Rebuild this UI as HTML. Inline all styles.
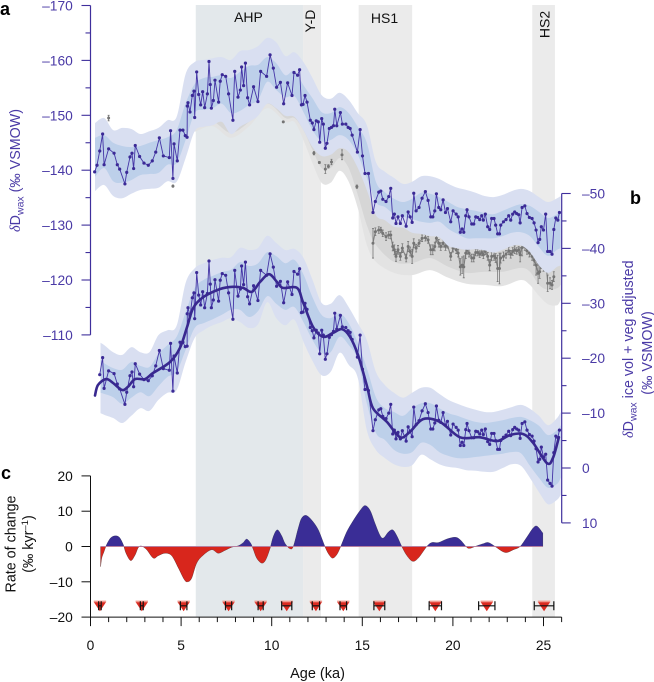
<!DOCTYPE html>
<html lang="en">
<head>
<meta charset="utf-8">
<title>Leaf wax hydrogen isotope record</title>
<style>
html,body{margin:0;padding:0;background:#fff}
svg{display:block}
text{font-family:"Liberation Sans",Arial,sans-serif}
</style>
</head>
<body>
<svg id="chart" xmlns="http://www.w3.org/2000/svg" width="654" height="682" viewBox="0 0 654 682">
<g id="bg"></g>
<g id="greyLayer"></g>
<g id="upperLayer"></g>
<g id="lowerLayer"></g>
<g id="rateLayer"></g>
<g id="axes"></g>

<text x="0" y="15" font-size="18" font-weight="bold">a</text>
<text x="630" y="204" font-size="18" font-weight="bold">b</text>
<text x="1" y="479" font-size="18" font-weight="bold">c</text>

<text transform="translate(20,232) rotate(-90)" font-size="14.3" fill="#4a3aa6"><tspan font-family="Liberation Serif" font-style="italic">δ</tspan>D<tspan font-size="10.5" dy="3.5">wax</tspan><tspan dy="-3.5"> (‰ VSMOW)</tspan></text>
<text transform="translate(633,438) rotate(-90)" font-size="14.3" fill="#4a3aa6"><tspan font-family="Liberation Serif" font-style="italic">δ</tspan>D<tspan font-size="10.5" dy="3.5">wax</tspan><tspan dy="-3.5"> ice vol + veg adjusted</tspan></text>
<text transform="translate(652,353) rotate(-90)" font-size="14.3" fill="#4a3aa6" text-anchor="middle">(‰ VSMOW)</text>
<text transform="translate(15.5,544) rotate(-90)" font-size="14.3" fill="#111" text-anchor="middle">Rate of change</text>
<text transform="translate(33,544) rotate(-90)" font-size="14.3" fill="#111" text-anchor="middle">(‰ kyr<tspan font-size="9.5" dy="-5">–1</tspan><tspan dy="5">)</tspan></text>
<text x="317.5" y="678" font-size="14.5" fill="#111" text-anchor="middle">Age (ka)</text>

<text x="248.5" y="22" font-size="14" fill="#111" text-anchor="middle">AHP</text>
<text x="384.5" y="23" font-size="14" fill="#111" text-anchor="middle">HS1</text>
<text transform="translate(315,21) rotate(-90)" font-size="14" fill="#111" text-anchor="middle">Y-D</text>
<text transform="translate(549.5,24.5) rotate(-90)" font-size="14" fill="#111" text-anchor="middle">HS2</text>
</svg>

<script>
// ---------- event windows (ka) ----------
const eventNames = ['ahp','younger-dryas','hs1','hs2'];
const eventStarts = [5.81,11.73,14.8,24.38];
const eventEnds = [11.73,12.72,17.75,25.63];

// ---------- sample ages shared by raw and adjusted records (ka) ----------
const sampleAges = [0.23,0.36,0.51,0.67,0.75,1.0,1.3,1.48,1.61,1.9,2.0,2.18,2.29,2.38,2.47,2.71,2.95,3.19,3.41,3.6,3.8,4.02,4.35,4.42,4.55,4.61,4.79,4.94,5.1,5.23,5.33,5.34,5.38,5.49,5.62,5.71,5.75,5.86,5.97,6.08,6.19,6.3,6.45,6.54,6.61,6.67,6.78,6.87,7.07,7.16,7.27,7.46,7.62,7.86,7.96,8.14,8.27,8.34,8.45,8.55,8.67,8.78,9.0,9.24,9.39,9.72,9.91,10.09,10.27,10.48,10.66,10.88,11.12,11.23,11.43,11.54,11.64,11.73,11.84,11.95,12.13,12.24,12.33,12.46,12.57,12.65,12.76,12.85,12.96,13.05,13.18,13.3,13.41,13.48,13.59,13.79,13.9,14.09,14.22,14.33,14.44,14.73,14.88,15.01,15.15,15.34,15.59,15.72,15.91,16.02,16.13,16.31,16.46,16.57,16.68,16.77,16.86,16.97,17.1,17.21,17.42,17.53,17.64,17.75,17.84,17.97,18.13,18.3,18.48,18.63,18.78,18.89,19.0,19.09,19.22,19.33,19.46,19.59,19.7,19.88,20.01,20.18,20.29,20.41,20.51,20.6,20.71,20.78,20.89,21.04,21.15,21.26,21.37,21.48,21.59,21.68,21.79,21.92,22.03,22.14,22.27,22.36,22.47,22.57,22.64,22.79,22.93,23.08,23.19,23.3,23.41,23.52,23.63,23.71,23.82,23.97,24.09,24.22,24.37,24.48,24.59,24.7,24.79,24.88,25.0,25.12,25.23,25.36,25.47,25.57,25.68,25.79,25.88];

// raw dD wax (permil, left axis)
const rawValues = [-139.7,-140.9,-143.5,-146.6,-141.0,-143.9,-143.1,-141.0,-140.2,-137.5,-139.6,-142.4,-143.1,-140.3,-144.5,-142.5,-141.3,-140.9,-141.7,-143.3,-145.9,-142.6,-142.3,-147.2,-138.5,-144.8,-141.7,-147.3,-147.3,-146.3,-146.0,-151.7,-152.3,-150.6,-153.6,-154.4,-149.6,-157.9,-153.8,-151.9,-154.3,-151.4,-153.9,-159.8,-155.6,-151.3,-152.7,-156.4,-152.4,-156.2,-157.4,-157.1,-153.9,-149.1,-158.0,-153.3,-154.6,-158.8,-155.4,-159.5,-153.2,-151.9,-155.2,-152.5,-158.0,-157.1,-161.0,-158.6,-155.1,-156.0,-152.1,-155.9,-153.6,-157.8,-157.3,-158.3,-151.9,-152.0,-153.6,-152.4,-149.1,-148.6,-147.4,-149.0,-148.8,-145.1,-149.4,-148.4,-144.0,-144.9,-147.6,-147.8,-148.1,-151.1,-148.1,-150.5,-148.4,-148.4,-147.8,-147.6,-146.4,-143.3,-147.4,-142.6,-139.4,-139.4,-132.3,-134.3,-136.0,-136.2,-134.7,-134.3,-135.2,-136.7,-131.3,-132.0,-130.3,-131.5,-130.3,-131.7,-129.8,-132.4,-131.5,-130.5,-135.8,-132.6,-133.2,-134.9,-136.1,-134.5,-131.5,-131.5,-132.6,-135.7,-133.2,-132.8,-134.6,-132.3,-133.0,-130.6,-132.6,-132.0,-131.5,-128.7,-129.3,-128.7,-131.7,-132.8,-131.5,-130.2,-130.2,-131.5,-131.4,-131.0,-131.7,-130.9,-132.0,-129.7,-129.2,-131.2,-131.2,-130.0,-128.4,-128.4,-130.0,-130.6,-131.0,-131.7,-130.9,-132.0,-132.4,-132.1,-131.9,-130.4,-133.2,-133.5,-132.1,-131.4,-131.2,-130.4,-129.1,-126.8,-127.4,-129.7,-129.1,-132.0,-125.2,-125.2,-124.7,-129.2,-131.3,-130.9,-132.3];

// adjusted dD wax (permil, right axis); the two youngest samples are not plotted
const adjustedValues = [null,null,-17.0,-20.1,-14.5,-17.7,-17.2,-15.3,-14.4,-11.6,-13.8,-16.8,-17.5,-14.8,-19.0,-17.1,-16.1,-15.9,-16.8,-18.6,-21.4,-18.1,-17.8,-22.7,-14.0,-20.4,-17.3,-22.9,-22.9,-22.1,-22.2,-28.1,-29.2,-27.7,-31.0,-31.9,-27.2,-35.6,-31.5,-29.7,-32.1,-29.2,-31.8,-37.7,-33.5,-29.2,-30.6,-34.3,-30.4,-34.2,-35.4,-35.1,-31.9,-27.1,-36.0,-31.3,-32.6,-36.8,-33.4,-37.5,-31.2,-29.9,-33.2,-30.5,-36.0,-35.1,-39.0,-36.6,-33.1,-34.0,-30.1,-33.9,-31.6,-35.8,-35.3,-36.3,-28.3,-28.4,-30.0,-28.9,-25.6,-25.0,-23.7,-25.1,-24.6,-20.8,-25.1,-24.2,-19.8,-20.8,-23.8,-24.3,-24.9,-28.2,-25.3,-27.8,-25.7,-25.6,-25.0,-24.7,-23.4,-20.2,-24.2,-18.0,-14.3,-14.1,-6.8,-8.8,-10.6,-10.8,-9.4,-9.0,-10.0,-11.6,-6.2,-6.9,-5.3,-6.5,-5.3,-6.8,-4.9,-7.5,-6.7,-5.7,-11.1,-7.9,-8.6,-10.4,-11.7,-10.1,-7.1,-7.1,-8.2,-11.3,-8.7,-8.3,-10.1,-7.8,-8.5,-6.0,-8.0,-7.4,-6.9,-4.1,-4.7,-4.1,-7.0,-8.1,-6.8,-5.5,-5.5,-6.7,-6.6,-6.2,-6.9,-6.1,-7.1,-4.8,-4.3,-6.3,-6.3,-5.0,-3.4,-3.4,-5.0,-5.6,-6.0,-6.7,-5.9,-7.0,-7.4,-7.1,-6.9,-5.4,-8.1,-8.4,-6.9,-6.1,-5.8,-4.9,-3.5,-1.1,-1.6,-3.8,-2.0,-2.5,2.2,2.8,3.3,-2.8,-5.8,-5.5,-6.9];

// ---------- raw record uncertainty envelopes ----------
const rawBandAges = [0.25,0.75,1.25,1.75,2.25,2.75,3.25,3.75,4.25,4.75,5.25,5.75,6.25,6.75,7.25,7.75,8.25,8.75,9.25,9.75,10.25,10.75,11.25,11.75,12.25,12.75,13.25,13.75,14.25,14.75,15.25,15.75,16.25,16.75,17.25,17.75,18.25,18.75,19.25,19.75,20.25,20.75,21.25,21.75,22.25,22.75,23.25,23.75,24.25,24.75,25.25,25.75,25.95];
const rawOuterTop = [-148.6,-149.5,-147.3,-147.7,-147.5,-146.6,-147.1,-147.7,-149.1,-149.7,-157.5,-159.7,-160.1,-160.4,-160.6,-160.1,-161.7,-161.9,-162.6,-164.1,-163.3,-160.8,-161.5,-159.7,-156.8,-153.7,-153.0,-154.1,-152.8,-150.4,-148.2,-141.5,-139.7,-138.6,-137.5,-137.9,-138.9,-138.9,-138.4,-137.5,-136.8,-136.4,-135.9,-135.3,-135.1,-135.5,-136.2,-136.6,-136.2,-135.1,-134.2,-134.9,-135.3];
const rawInnerTop = [-145.9,-146.4,-145.0,-144.4,-144.2,-144.4,-145.0,-145.5,-146.0,-147.3,-152.2,-155.7,-156.8,-157.0,-157.3,-156.8,-157.9,-159.0,-159.2,-160.6,-159.5,-157.3,-158.1,-155.5,-153.1,-150.6,-150.4,-151.5,-150.4,-147.9,-145.0,-137.9,-136.0,-134.8,-134.2,-134.8,-135.9,-135.7,-135.1,-134.2,-133.3,-132.9,-132.6,-132.2,-132.0,-132.6,-133.3,-133.8,-133.5,-132.4,-131.3,-132.0,-132.4];
const rawInnerBottom = [-138.8,-140.4,-138.0,-137.7,-138.2,-139.1,-139.3,-139.5,-141.0,-141.3,-145.5,-150.4,-151.0,-151.3,-152.1,-150.4,-150.8,-151.9,-152.8,-156.1,-154.6,-153.3,-153.5,-150.6,-147.3,-145.3,-145.5,-146.4,-145.5,-142.8,-138.6,-134.2,-133.3,-132.0,-131.5,-131.1,-130.6,-130.4,-130.6,-129.3,-128.4,-127.6,-127.6,-127.6,-127.6,-128.0,-128.6,-128.7,-128.0,-126.0,-124.4,-125.5,-125.8];
const rawOuterBottom = [-136.2,-137.3,-135.3,-134.9,-135.7,-136.4,-136.6,-136.8,-138.0,-137.9,-142.2,-147.1,-147.9,-148.2,-148.8,-146.6,-147.9,-148.8,-149.9,-152.1,-151.3,-149.9,-149.7,-147.3,-144.2,-142.6,-142.8,-144.0,-143.3,-140.4,-136.4,-131.8,-130.9,-129.7,-129.5,-128.6,-128.4,-128.0,-127.8,-126.2,-125.8,-125.5,-125.6,-125.4,-125.0,-125.5,-126.2,-126.3,-125.1,-122.7,-121.3,-122.4,-122.6];

// ---------- unadjusted (grey) record ----------
const greyBandAges = [5.75,6.75,7.75,8.75,9.75,10.75,11.25,11.75,12.25,12.75,13.25,13.75,14.25,14.75,15.25,15.75,16.75,17.75,18.75,19.75,20.75,21.75,22.75,23.75,24.25,24.75,25.25,25.75,25.95];
const greyTop = [-150.4,-151.3,-150.4,-151.9,-156.1,-153.3,-153.5,-150.6,-147.3,-145.3,-145.5,-146.4,-145.5,-142.8,-138.6,-134.2,-132.0,-131.1,-130.4,-129.3,-127.6,-127.6,-128.0,-128.7,-128.0,-126.0,-124.4,-125.5,-125.8];
const greyInnerBottom = [-147.7,-148.8,-146.8,-148.8,-152.1,-149.5,-149.5,-147.3,-143.7,-140.4,-140.4,-142.2,-140.4,-135.5,-130.0,-126.4,-123.3,-123.1,-124.0,-122.4,-121.3,-121.5,-121.5,-122.2,-121.5,-119.1,-118.2,-118.5,-119.1];
const greyOuterBottom = [-147.0,-148.0,-145.9,-148.0,-151.3,-148.8,-148.8,-145.5,-141.3,-137.7,-137.7,-139.9,-137.9,-133.1,-126.4,-123.3,-121.3,-120.9,-121.8,-120.4,-119.3,-119.1,-118.9,-120.0,-119.1,-117.1,-115.6,-115.4,-116.4];
// isolated grey samples poking out from under the blue envelopes
const greyEarlyAges = [1.0,4.55,10.64,12.33,12.63,12.96,13.13,13.3,13.88,14.7];
const greyEarlyValues = [-149.5,-137.1,-148.8,-143.1,-141.4,-140.2,-140.7,-141.5,-142.8,-137.0];
const greyEarlyErrors = [0.5,0.2,0.1,0.3,0.2,0.8,0.3,0.5,0.9,0.3];
// dense grey samples older than 15.5 ka
const greyAges = [15.59,15.72,15.91,16.02,16.13,16.31,16.46,16.57,16.68,16.77,16.86,16.97,17.1,17.21,17.42,17.53,17.64,17.75,17.84,17.97,18.13,18.3,18.48,18.63,18.78,18.89,19.0,19.09,19.22,19.33,19.46,19.59,19.7,19.88,20.01,20.18,20.29,20.41,20.51,20.6,20.71,20.78,20.89,21.04,21.15,21.26,21.37,21.48,21.59,21.68,21.79,21.92,22.03,22.14,22.27,22.36,22.47,22.57,22.64,22.79,22.93,23.08,23.19,23.3,23.41,23.52,23.63,23.71,23.82,23.97,24.09,24.22,24.37,24.48,24.59,24.7,24.79,24.88,25.0,25.12,25.23,25.36,25.47,25.57];
const greyValues = [-126.7,-128.8,-129.1,-129.1,-128.5,-127.9,-128.2,-128.2,-126.1,-125.5,-124.3,-125.5,-124.3,-125.8,-124.0,-126.1,-125.2,-124.3,-126.7,-125.8,-126.7,-127.6,-127.7,-127.3,-125.5,-125.5,-126.1,-127.6,-126.7,-126.1,-126.7,-126.1,-126.4,-124.3,-125.8,-125.5,-124.9,-122.4,-122.7,-122.4,-124.9,-125.5,-124.9,-124.0,-124.0,-125.0,-125.0,-124.7,-125.0,-124.6,-125.3,-124.3,-122.7,-124.3,-124.4,-124.0,-122.1,-122.1,-124.0,-124.3,-124.7,-125.3,-124.7,-125.2,-125.5,-125.3,-125.5,-124.6,-125.9,-126.1,-125.3,-124.9,-124.3,-123.6,-122.7,-121.2,-121.5,-123.0,-122.4,-124.0,-119.4,-119.4,-119.1,-120.6];
const greyErrors = [2.7,0.7,0.6,0.5,0.6,0.7,0.6,0.7,0.8,0.9,0.9,0.8,0.7,0.8,0.7,0.9,0.8,1.3,0.8,0.7,0.6,0.6,0.6,0.6,0.9,0.9,0.8,0.7,0.7,0.7,0.7,0.7,0.6,0.7,0.7,0.7,0.7,1.5,1.5,2.0,1.0,0.8,0.7,0.7,0.7,0.6,0.6,0.6,0.6,0.7,0.7,0.7,1.0,0.8,0.8,0.8,2.4,2.8,0.9,0.8,0.7,0.7,0.7,0.7,0.7,0.6,0.6,1.3,1.5,0.7,0.6,0.7,0.7,0.9,1.8,1.8,1.2,0.9,0.8,1.2,1.5,1.0,0.8,0.9];

// ---------- adjusted record envelopes and smooth fit ----------
const adjBandAges = [0.55,0.75,1.25,1.75,2.25,2.75,3.25,3.75,4.25,4.75,5.25,5.75,6.25,6.75,7.25,7.75,8.25,8.75,9.25,9.75,10.25,10.75,11.25,11.75,12.25,12.75,13.25,13.75,14.25,14.75,15.25,15.75,16.25,16.75,17.25,17.75,18.25,18.75,19.25,19.75,20.25,20.75,21.25,21.75,22.25,22.75,23.25,23.75,24.25,24.75,25.25,25.75,25.95];
const adjOuterTop = [-22.8,-22.4,-21.1,-20.6,-22.0,-21.1,-21.1,-24.2,-25.1,-25.9,-33.7,-36.4,-37.3,-37.9,-38.3,-38.4,-40.1,-39.7,-40.1,-42.3,-41.0,-39.7,-39.9,-38.3,-34.3,-30.1,-29.9,-31.5,-29.3,-26.4,-23.3,-17.5,-15.1,-13.7,-12.8,-13.7,-14.6,-14.6,-13.5,-12.4,-11.7,-11.1,-10.6,-10.2,-10.2,-10.6,-11.1,-11.5,-10.8,-9.5,-7.8,-9.1,-10.2];
const adjInnerTop = [-19.7,-19.1,-18.2,-17.9,-19.3,-18.6,-18.4,-20.8,-22.4,-23.9,-28.4,-32.8,-34.3,-35.0,-35.7,-36.1,-37.5,-36.8,-37.3,-39.3,-38.6,-37.3,-37.9,-35.3,-31.1,-27.9,-27.3,-28.2,-26.4,-22.8,-18.2,-12.9,-10.9,-10.2,-9.5,-10.9,-11.8,-11.8,-10.9,-10.0,-9.5,-8.9,-8.4,-8.2,-8.4,-8.7,-9.1,-9.3,-8.7,-7.7,-6.0,-6.9,-7.8];
const adjInnerBottom = [-13.7,-13.5,-12.9,-11.7,-12.8,-13.8,-13.1,-14.9,-16.6,-17.5,-21.5,-25.5,-26.4,-27.1,-27.9,-28.8,-28.8,-27.5,-28.6,-31.3,-29.9,-28.8,-29.3,-26.6,-23.3,-21.0,-21.1,-23.9,-22.4,-19.7,-11.8,-6.4,-5.1,-3.3,-2.6,-2.9,-4.6,-4.2,-2.9,-2.2,-1.8,-1.8,-2.0,-2.2,-2.4,-2.6,-2.9,-2.7,-0.4,1.8,3.6,2.9,1.8];
const adjOuterBottom = [-10.0,-9.7,-9.1,-8.2,-9.5,-10.9,-10.4,-12.4,-13.7,-14.2,-19.3,-23.7,-25.1,-26.0,-26.6,-27.3,-26.6,-25.5,-26.2,-30.2,-27.3,-26.0,-27.0,-23.0,-19.5,-16.9,-17.5,-21.0,-18.8,-16.4,-6.9,-3.3,-1.8,-0.7,-0.2,-0.5,-2.4,-1.6,-0.7,-0.2,0.0,0.4,0.5,0.7,0.7,0.0,-0.7,-0.4,1.8,4.4,6.6,5.8,4.9];
const fitAges = [0.25,0.41,0.86,1.24,1.74,2.07,2.46,3.01,3.45,4.39,4.94,5.33,5.66,6.21,7.15,7.86,8.42,8.91,9.36,9.85,10.29,10.62,11.4,11.73,12.28,12.83,13.38,13.88,14.32,14.76,15.26,15.59,16.36,17.08,17.63,18.35,19.29,20.39,21.5,22.43,23.15,23.87,24.42,25.19,25.52,25.85];
const fitValues = [-13.2,-15.1,-16.2,-15.5,-14.2,-14.8,-16.2,-16.2,-17.3,-19.3,-21.9,-25.7,-29.1,-31.1,-32.6,-33.0,-32.8,-32.1,-33.9,-35.3,-33.9,-32.8,-32.8,-30.2,-25.7,-23.9,-24.6,-25.3,-23.9,-20.6,-14.9,-10.9,-8.4,-5.6,-6.6,-8.9,-8.4,-5.6,-5.6,-4.9,-6.0,-6.2,-4.6,-0.9,-1.8,-5.6];

// ---------- rate of change (permil per kyr) ----------
const rateAges = [0.56,0.62,0.75,0.89,1.11,1.35,1.59,1.81,1.96,2.22,2.46,2.64,2.82,3.1,3.47,3.74,4.11,4.48,4.85,5.18,5.36,5.58,5.86,6.23,6.69,7.05,7.42,7.79,8.16,8.43,8.62,8.84,8.99,9.17,9.45,9.67,9.91,10.09,10.31,10.55,10.73,11.0,11.19,11.47,11.65,11.89,12.2,12.57,12.95,13.19,13.37,13.59,13.81,14.14,14.51,14.88,15.15,15.43,15.71,15.98,16.17,16.44,16.68,16.9,17.18,17.45,17.78,18.1,18.56,18.83,19.2,19.66,20.12,20.4,20.76,20.95,21.22,21.68,21.96,22.33,22.7,22.97,23.34,23.71,24.08,24.44,24.66,24.96];
const rateValues = [-5.7,-3.3,-1.4,0.5,2.4,3.0,2.6,0.5,-1.9,-4.0,-2.4,-0.3,0.1,-0.9,-3.3,-2.6,-1.9,-2.6,-6.1,-9.4,-10.0,-9.0,-4.7,-2.4,-0.9,-1.9,-1.1,-0.2,0.2,1.1,2.1,0.9,-0.9,-3.3,-4.7,-3.8,-0.5,2.8,4.7,3.0,0.9,-0.6,0.0,5.2,8.0,8.8,7.5,4.7,-0.2,-2.5,-3.3,-2.3,0.0,4.1,7.4,10.2,11.6,10.2,6.4,3.1,2.4,4.1,4.7,3.1,0.0,-2.5,-4.2,-3.2,0.0,1.1,1.1,2.1,2.6,1.9,-0.2,-0.5,0.0,0.8,1.1,0.0,-1.3,-1.7,-0.9,0.0,2.6,5.3,5.7,3.8];

// ---------- age-control markers ----------
const dateAges = [0.52,2.83,5.14,7.62,9.39,10.83,12.44,13.95,15.94,19.03,21.87,25.03];
const dateErrors = [0.07,0.08,0.18,0.17,0.14,0.28,0.2,0.18,0.3,0.34,0.45,0.54];
const markerY = -16.8;

// ---------- ticks ----------
const leftTicks = [-170,-165,-160,-155,-150,-145,-140,-135,-130,-125,-120,-115,-110];
const leftTickLabels = ['–170',null,'–160',null,'–150',null,'–140',null,'–130',null,'–120',null,'–110'];
const rightTicks = [-50,-45,-40,-35,-30,-25,-20,-15,-10,-5,0,5,10];
const rightTickLabels = ['–50',null,'–40',null,'–30',null,'–20',null,'–10',null,'0',null,'10'];
const rateTicks = [20,10,0,-10,-20];
const rateTickLabels = ['20','10','0','–10','–20'];
const ageTicks = [0,1,2,3,4,5,6,7,8,9,10,11,12,13,14,15,16,17,18,19,20,21,22,23,24,25,26];
const ageTickLabels = {0:'0',5:'5',10:'10',15:'15',20:'20',25:'25'};

// ---------- axis functions ----------
const xAge = a => 90.5 + 18.12 * a;
const yLeft = v => 5.5 + (v + 170) * 5.49;
const yRight = v => 468 + v * 5.49;
const yRate = v => 546.5 - v * 3.53;

const NS = 'http://www.w3.org/2000/svg';
function make(parent, tag, props) {
  const el = document.createElementNS(NS, tag);
  for (const k in props) el.setAttribute(k, props[k]);
  parent.appendChild(el);
  return el;
}
function smoothSegs(p) {
  let d = '';
  for (let i = 0; i < p.length - 1; i++) {
    const p0 = p[Math.max(i - 1, 0)], p1 = p[i], p2 = p[i + 1], p3 = p[Math.min(i + 2, p.length - 1)];
    const c1x = p1[0] + (p2[0] - p0[0]) / 6, c1y = p1[1] + (p2[1] - p0[1]) / 6;
    const c2x = p2[0] - (p3[0] - p1[0]) / 6, c2y = p2[1] - (p3[1] - p1[1]) / 6;
    d += 'C' + c1x.toFixed(1) + ' ' + c1y.toFixed(1) + ' ' + c2x.toFixed(1) + ' ' + c2y.toFixed(1) + ' ' + p2[0].toFixed(1) + ' ' + p2[1].toFixed(1);
  }
  return d;
}
function bandPath(ages, top, bottom, yFn) {
  const a = ages.map((t, i) => [xAge(t), yFn(top[i])]);
  const b = ages.map((t, i) => [xAge(t), yFn(bottom[i])]).reverse();
  return 'M' + a[0][0].toFixed(1) + ' ' + a[0][1].toFixed(1) + smoothSegs(a) + 'L' + b[0][0].toFixed(1) + ' ' + b[0][1].toFixed(1) + smoothSegs(b) + 'Z';
}
function greyMark(age, value, err) {
  const x = xAge(age), y1 = yLeft(value - err), y2 = yLeft(value + err);
  const bar = make(greyLayer, 'path', {d: 'M' + x + ' ' + y1 + 'V' + y2 + 'M' + (x - 1) + ' ' + y1 + 'h2M' + (x - 1) + ' ' + y2 + 'h2', stroke: '#767676', 'stroke-width': 0.8, fill: 'none'});
  
  
  const dot = make(greyLayer, 'circle', {cx: x, cy: yLeft(value), r: 1.5, fill: '#747474'});
  
  
}

const bg = document.getElementById('bg');
const greyLayer = document.getElementById('greyLayer');
const upperLayer = document.getElementById('upperLayer');
const lowerLayer = document.getElementById('lowerLayer');
const rateLayer = document.getElementById('rateLayer');
const axes = document.getElementById('axes');

// ---------- event shading ----------
eventNames.forEach((name, i) => {
  const r = make(bg, 'rect', {x: xAge(eventStarts[i]), y: 5, width: xAge(eventEnds[i]) - xAge(eventStarts[i]), height: 612, fill: name === 'ahp' ? '#e3e8eb' : '#ebebeb'});
  
  
});

// ---------- grey record ----------
const greyOuter = make(greyLayer, 'path', {d: bandPath(greyBandAges, greyTop, greyOuterBottom, yLeft), fill: '#e3e3e3'});


const greyInner = make(greyLayer, 'path', {d: bandPath(greyBandAges, greyTop, greyInnerBottom, yLeft), fill: '#d6d6d6'});


const greyLine = make(greyLayer, 'polyline', {points: greyAges.map((a, i) => xAge(a).toFixed(1) + ',' + yLeft(greyValues[i]).toFixed(1)).join(' '), fill: 'none', stroke: '#7c7c7c', 'stroke-width': 1});


greyEarlyAges.forEach((a, i) => greyMark(a, greyEarlyValues[i], greyEarlyErrors[i]));
greyAges.forEach((a, i) => greyMark(a, greyValues[i], greyErrors[i]));

// ---------- raw record ----------
const rawOuter = make(upperLayer, 'path', {d: bandPath(rawBandAges, rawOuterTop, rawOuterBottom, yLeft), fill: '#d9dff1'});


const rawInner = make(upperLayer, 'path', {d: bandPath(rawBandAges, rawInnerTop, rawInnerBottom, yLeft), fill: '#bdd0ea'});


const rawLine = make(upperLayer, 'polyline', {points: sampleAges.map((a, i) => xAge(a).toFixed(1) + ',' + yLeft(rawValues[i]).toFixed(1)).join(' '), fill: 'none', stroke: '#4434a6', 'stroke-width': 0.9});


sampleAges.forEach((a, i) => {
  const dot = make(upperLayer, 'circle', {cx: xAge(a), cy: yLeft(rawValues[i]), r: 1.6, fill: '#3b2a96'});
  
  
});

// ---------- adjusted record ----------
const adjOuter = make(lowerLayer, 'path', {d: bandPath(adjBandAges, adjOuterTop, adjOuterBottom, yRight), fill: '#d9dff1'});


const adjInner = make(lowerLayer, 'path', {d: bandPath(adjBandAges, adjInnerTop, adjInnerBottom, yRight), fill: '#bdd0ea'});


const adjPts = [];
sampleAges.forEach((a, i) => { if (adjustedValues[i] !== null) adjPts.push([xAge(a), yRight(adjustedValues[i])]); });
const adjLine = make(lowerLayer, 'polyline', {points: adjPts.map(p => p[0].toFixed(1) + ',' + p[1].toFixed(1)).join(' '), fill: 'none', stroke: '#4434a6', 'stroke-width': 0.9});


adjPts.forEach(p => {
  const dot = make(lowerLayer, 'circle', {cx: p[0], cy: p[1], r: 1.6, fill: '#3b2a96'});
  
  
});
const fitPts = fitAges.map((a, i) => [xAge(a), yRight(fitValues[i])]);
const fit = make(lowerLayer, 'path', {d: 'M' + fitPts[0][0].toFixed(1) + ' ' + fitPts[0][1].toFixed(1) + smoothSegs(fitPts), fill: 'none', stroke: '#38288f', 'stroke-width': 2.6, 'stroke-linecap': 'round'});



// ---------- rate of change ----------
const defs = make(rateLayer, 'defs', {});
const clipUp = make(defs, 'clipPath', {id: 'rateAbove'});
make(clipUp, 'rect', {x: 80, y: yRate(20), width: 490, height: yRate(0) - yRate(20)});
const clipDown = make(defs, 'clipPath', {id: 'rateBelow'});
make(clipDown, 'rect', {x: 80, y: yRate(0), width: 490, height: yRate(-20) - yRate(0)});
const ratePts = rateAges.map((a, i) => [xAge(a), yRate(rateValues[i])]);
const first = ratePts[0], last = ratePts[ratePts.length - 1];
const rateD = 'M' + first[0].toFixed(1) + ' ' + yRate(0) + 'L' + first[0].toFixed(1) + ' ' + first[1].toFixed(1) + smoothSegs(ratePts) + 'L' + last[0].toFixed(1) + ' ' + yRate(0) + 'Z';
const posArea = make(rateLayer, 'path', {d: rateD, fill: '#3a2d96', stroke: '#2a2a55', 'stroke-width': 0.4, 'clip-path': 'url(#rateAbove)'});


const negArea = make(rateLayer, 'path', {d: rateD, fill: '#d8261c', stroke: '#5a2a2a', 'stroke-width': 0.4, 'clip-path': 'url(#rateBelow)'});


const zeroLine = make(rateLayer, 'line', {x1: first[0], x2: last[0], y1: yRate(0), y2: yRate(0), stroke: '#b77f9f', 'stroke-width': 0.9});



// ---------- age-control markers ----------
dateAges.forEach((a, i) => {
  const x = xAge(a), y = yRate(markerY);
  const stripe = make(rateLayer, 'rect', {x: x - 6.2, y: y - 5.2, width: 12.4, height: 1.8, fill: '#f19a8f'});
  
  
  const tri = make(rateLayer, 'polygon', {points: (x - 6) + ',' + (y - 3.6) + ' ' + (x + 6) + ',' + (y - 3.6) + ' ' + x + ',' + (y + 5.4), fill: '#db2a20'});
  
  
  const e = xAge(a + dateErrors[i]) - x;
  const err = make(rateLayer, 'path', {d: 'M' + (x - e) + ' ' + y + 'H' + (x + e) + 'M' + (x - e) + ' ' + (y - 4.5) + 'v9M' + (x + e) + ' ' + (y - 4.5) + 'v9', stroke: '#111', 'stroke-width': 1.2, fill: 'none'});
  
  
});

// ---------- axes ----------
const PURPLE = '#3f2f9c';
const leftAxis = make(axes, 'line', {x1: 90.5, x2: 90.5, y1: yLeft(-170), y2: yLeft(-110), stroke: PURPLE, 'stroke-width': 1.2});


leftTicks.forEach((v, i) => {
  const major = leftTickLabels[i] !== null;
  const t = make(axes, 'line', {x1: major ? 81.5 : 85.5, x2: 90.5, y1: yLeft(v), y2: yLeft(v), stroke: PURPLE, 'stroke-width': 1.1});
  
  
  if (major) {
    const l = make(axes, 'text', {x: 72.8, y: yLeft(v) + 5, 'font-size': 13.8, 'text-anchor': 'end', fill: '#4a3aa6'});
    l.textContent = leftTickLabels[i];
    
    
  }
});
const rightAxis = make(axes, 'line', {x1: 561.7, x2: 561.7, y1: yRight(-50), y2: yRight(10), stroke: PURPLE, 'stroke-width': 1.2});


rightTicks.forEach((v, i) => {
  const major = rightTickLabels[i] !== null;
  const t = make(axes, 'line', {x1: 561.7, x2: major ? 570.7 : 566.5, y1: yRight(v), y2: yRight(v), stroke: PURPLE, 'stroke-width': 1.1});
  
  
  if (major) {
    const l = make(axes, 'text', {x: 582, y: yRight(v) + 5, 'font-size': 13.8, fill: '#4a3aa6'});
    l.textContent = rightTickLabels[i];
    
    
  }
});
const rateAxis = make(axes, 'line', {x1: 90.5, x2: 90.5, y1: yRate(20), y2: yRate(-20), stroke: '#111', 'stroke-width': 1});


rateTicks.forEach((v, i) => {
  const t = make(axes, 'line', {x1: 81.5, x2: 90.5, y1: yRate(v), y2: yRate(v), stroke: '#111', 'stroke-width': 1});
  
  
  const l = make(axes, 'text', {x: 72.8, y: yRate(v) + 5, 'font-size': 13.8, 'text-anchor': 'end', fill: '#111'});
  l.textContent = rateTickLabels[i];
  
  
});
const ageAxis = make(axes, 'line', {x1: xAge(0), x2: xAge(26), y1: yRate(-20), y2: yRate(-20), stroke: '#111', 'stroke-width': 1});


ageTicks.forEach(a => {
  const label = ageTickLabels[a];
  const t = make(axes, 'line', {x1: xAge(a), x2: xAge(a), y1: yRate(-20), y2: yRate(-20) + (label ? 9 : 5), stroke: '#111', 'stroke-width': 1});
  
  
  if (label) {
    const l = make(axes, 'text', {x: xAge(a), y: 650, 'font-size': 13.8, 'text-anchor': 'middle', fill: '#111'});
    l.textContent = label;
    
    
  }
});
</script>
</body>
</html>
